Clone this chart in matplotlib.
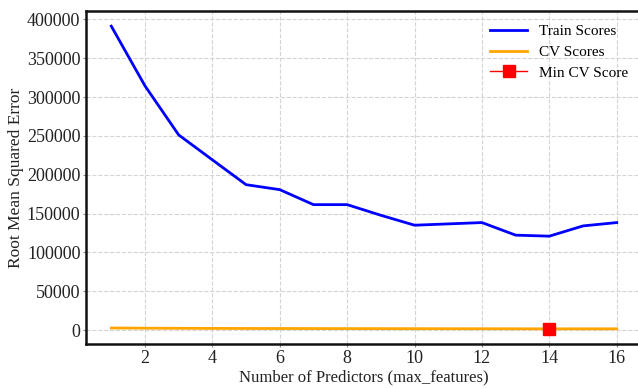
import matplotlib
matplotlib.use("Agg")
import matplotlib.pyplot as plt

# max_features tried and the resulting RMSE
n_predictors = list(range(1, 17))
train_scores = [391400, 314500, 251300, 219200, 187200, 180800, 161500, 161500,
                147800, 135000, 136700, 138400, 122200, 120900, 134100, 138400]
cv_scores = [2600, 2400, 2200, 2100, 2000, 1950, 1900, 1850,
             1800, 1750, 1700, 1650, 1600, 1500, 1550, 1550]
best_k = 14
best_cv = cv_scores[n_predictors.index(best_k)]

plt.rcParams["font.family"] = ["Liberation Serif", "DejaVu Serif"]

fig = plt.figure(figsize=(6.38, 3.89), dpi=100)
ax = fig.add_axes([86 / 638, 45 / 389, 556 / 638, 333 / 389])

ax.plot(n_predictors, train_scores, color="blue", linewidth=2, label="Train Scores")
ax.plot(n_predictors, cv_scores, color="orange", linewidth=2, label="CV Scores")
ax.plot([best_k], [best_cv], color="red", marker="s", markersize=8,
        linewidth=1, label="Min CV Score")

ax.set_xlabel("Number of Predictors (max_features)", fontsize=12,
              color="#222222", labelpad=2)
ax.set_ylabel("Root Mean Squared Error", fontsize=12.5, color="#222222",
              labelpad=2)
ax.tick_params(labelsize=13, labelcolor="#222222", length=2, width=0.8,
               color="#888888", pad=2)
ax.grid(True, linestyle="--", color="#d4d4d4", linewidth=0.8)
for side in ("left", "top", "bottom"):
    ax.spines[side].set_linewidth(1.8)
    ax.spines[side].set_color("#111111")
ax.spines["right"].set_visible(False)

ax.legend(loc="upper right", frameon=False, fontsize=11, handlelength=2.4,
          labelspacing=0.45, handletextpad=0.8, bbox_to_anchor=(1.0, 1.0))

fig.savefig("out.png")
